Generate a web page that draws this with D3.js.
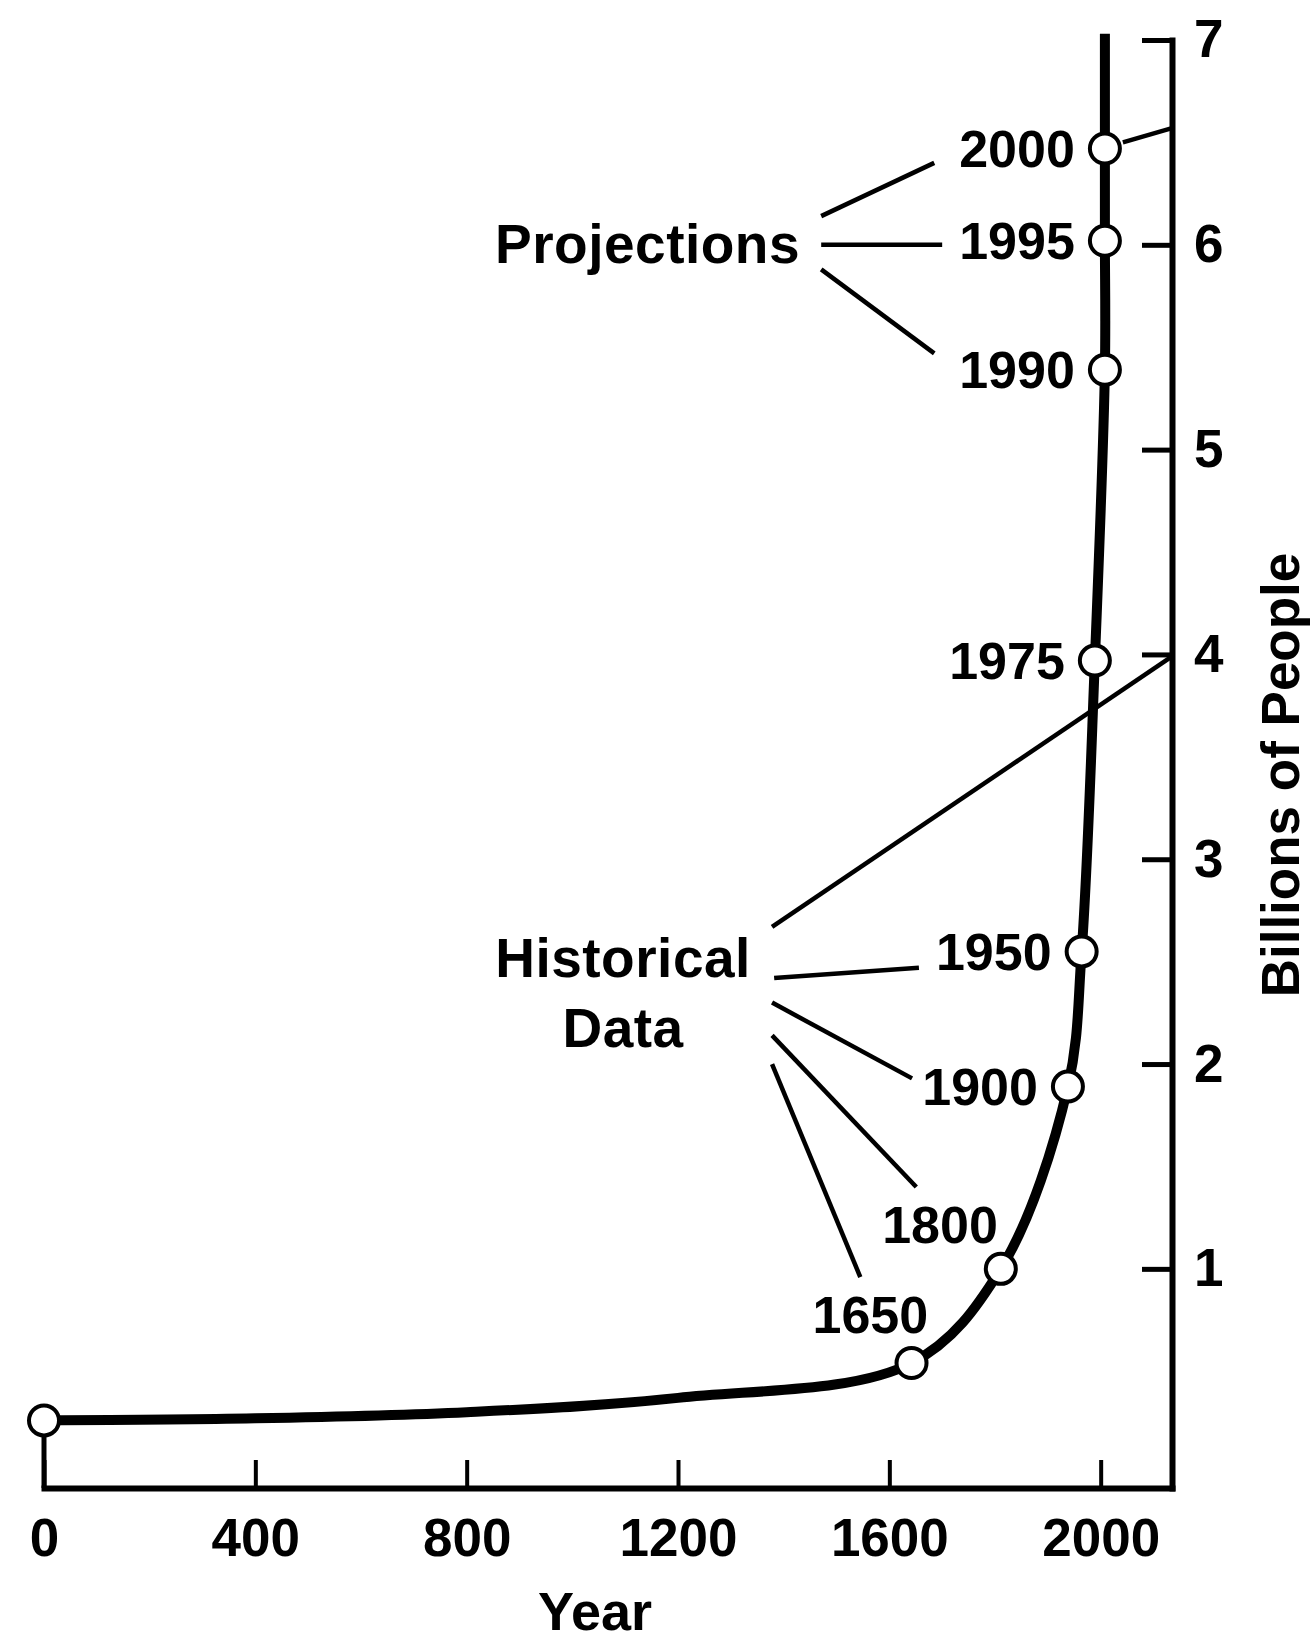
<!DOCTYPE html>
<html>
<head>
<meta charset="utf-8">
<script src="https://cdn.jsdelivr.net/npm/d3@7"></script>
<style>
  body { margin: 0; background: #fff; }
  text { font-family: "Liberation Sans", Arial, Helvetica, sans-serif; font-weight: bold; fill: #000; }
</style>
</head>
<body>
<div class="chart"></div>
<script>
// marked points (year as plotted, billions of people)
let plotYear = [0, 1642, 1811, 1938, 1964, 1989, 2008, 2008, 2008];
let billions = [0.26, 0.54, 1.0, 1.89, 2.55, 3.97, 5.39, 6.02, 6.47];
let pointLabels = ['', '1650', '1800', '1900', '1950', '1975', '1990', '1995', '2000'];

// the drawn curve (includes the marked points)
let traceYear = [0, 400, 800, 1200, 1642, 1811, 1938, 1964, 1989, 2008, 2008, 2008, 2008];
let traceBillions = [0.26, 0.27, 0.30, 0.37, 0.54, 1.0, 1.89, 2.55, 3.97, 5.39, 6.02, 6.47, 7.03];

let xTicks = [0, 400, 800, 1200, 1600, 2000];
let yTicks = [1, 2, 3, 4, 5, 6, 7];

// labels placed above-left of their points (1800, 1650)
let freeLabels = ['1800', '1650'];
let freeLabelYear = [1696, 1564];
let freeLabelBillions = [1.22, 0.78];

// group captions
let captionText = ['Projections', 'Historical', 'Data'];
let captionYear = [1431, 1096, 1096];
let captionBillions = [6.01, 2.52, 2.18];

// leader lines, [year, billions] -> [year, billions]
let leaderFrom = [[1471, 6.14], [1471, 6.00], [1471, 5.88], [2042, 6.50],
	[1378, 2.67], [1382, 2.42], [1378, 2.30], [1378, 2.14], [1378, 2.00]];
let leaderTo = [[1685, 6.40], [1700, 6.00], [1685, 5.47], [2135, 6.57],
	[2135, 3.99], [1656, 2.47], [1643, 1.93], [1651, 1.40], [1545, 0.96]];

let width = 1313;
let height = 1640;

let svg = d3.select('.chart')
	.append('svg')
	.attr('width', width)
	.attr('height', height)
	.style('display', 'block');

svg.append('rect').attr('width', width).attr('height', height).attr('fill', '#fff');

let xScale = d3.scaleLinear()
	.domain([0, 2135])
	.range([44, 1172]);

let yScale = d3.scaleLinear()
	.domain([-0.07, 7])
	.range([1488, 40]);

// x axis along the bottom, ticks pointing up
let xAxis = svg.append('g')
	.attr('transform', 'translate(0, ' + yScale(-0.07) + ')')
	.call(d3.axisBottom(xScale)
		.tickValues(xTicks)
		.tickFormat(d3.format('d'))
		.tickSizeInner(-28)
		.tickSizeOuter(0)
		.tickPadding(30));
xAxis.select('.domain').attr('stroke-width', 6).attr('stroke-linecap', 'square');
xAxis.selectAll('.tick line').attr('stroke-width', 4);
xAxis.selectAll('.tick text').style('font-size', '53px').attr('font-family', null).attr('font-size', null);

// y axis on the right, ticks pointing left, labels right
let yAxis = svg.append('g')
	.attr('transform', 'translate(' + xScale(2135) + ', 0)')
	.call(d3.axisRight(yScale)
		.tickValues(yTicks)
		.tickFormat(d3.format('d'))
		.tickSizeInner(-30)
		.tickSizeOuter(0)
		.tickPadding(22));
yAxis.select('.domain').attr('stroke-width', 6).attr('stroke-linecap', 'square');
yAxis.selectAll('.tick line').attr('stroke-width', 5);
yAxis.selectAll('.tick text').style('font-size', '53px').attr('font-family', null).attr('font-size', null);

// drop line from the year-0 point to the axis
svg.append('line')
	.attr('x1', xScale(plotYear[0]))
	.attr('x2', xScale(plotYear[0]))
	.attr('y1', yScale(billions[0]))
	.attr('y2', yScale(-0.07))
	.attr('stroke', '#000')
	.attr('stroke-width', 5);

// axis titles
svg.append('text')
	.attr('x', 595)
	.attr('y', 1630)
	.attr('text-anchor', 'middle')
	.style('font-size', '54px')
	.text('Year');

svg.append('text')
	.attr('transform', 'translate(1299, 775) rotate(-90)')
	.attr('text-anchor', 'middle')
	.style('font-size', '53px')
	.text('Billions of People');

// leader lines
svg.selectAll('.leader')
	.data(leaderFrom)
	.enter()
	.append('line')
	.attr('class', 'leader')
	.attr('x1', d => xScale(d[0]))
	.attr('y1', d => yScale(d[1]))
	.attr('x2', (d, i) => xScale(leaderTo[i][0]))
	.attr('y2', (d, i) => yScale(leaderTo[i][1]))
	.attr('stroke', '#000')
	.attr('stroke-width', 4.5);

// population curve
let line = d3.line()
	.x((d, i) => xScale(traceYear[i]))
	.y(d => yScale(d))
	.curve(d3.curveCatmullRom.alpha(0.5));

svg.append('path')
	.attr('d', line(traceBillions))
	.attr('fill', 'none')
	.attr('stroke', '#000')
	.attr('stroke-width', 10)
	.attr('stroke-linejoin', 'round');

// point markers
svg.selectAll('.pt')
	.data(billions)
	.enter()
	.append('circle')
	.attr('class', 'pt')
	.attr('cx', (d, i) => xScale(plotYear[i]))
	.attr('cy', d => yScale(d))
	.attr('r', 15)
	.attr('fill', '#fff')
	.attr('stroke', '#000')
	.attr('stroke-width', 4);

// labels to the left of their points
svg.selectAll('.ptlabel')
	.data(billions.filter((d, i) => i >= 3))
	.enter()
	.append('text')
	.attr('class', 'ptlabel')
	.attr('x', (d, i) => xScale(plotYear[i + 3]) - 30)
	.attr('y', d => yScale(d))
	.attr('dy', '0.36em')
	.attr('text-anchor', 'end')
	.style('font-size', '52px')
	.text((d, i) => pointLabels[i + 3]);

svg.selectAll('.freelabel')
	.data(freeLabels)
	.enter()
	.append('text')
	.attr('class', 'freelabel')
	.attr('x', (d, i) => xScale(freeLabelYear[i]))
	.attr('y', (d, i) => yScale(freeLabelBillions[i]))
	.attr('dy', '0.36em')
	.attr('text-anchor', 'middle')
	.style('font-size', '52px')
	.text(d => d);

svg.selectAll('.caption')
	.data(captionText)
	.enter()
	.append('text')
	.attr('class', 'caption')
	.attr('x', (d, i) => xScale(captionYear[i]))
	.attr('y', (d, i) => yScale(captionBillions[i]))
	.attr('dy', '0.36em')
	.attr('text-anchor', (d, i) => i == 0 ? 'end' : 'middle')
	.style('font-size', '55px')
	.style('letter-spacing', '0.5px')
	.text(d => d);
</script>
</body>
</html>
